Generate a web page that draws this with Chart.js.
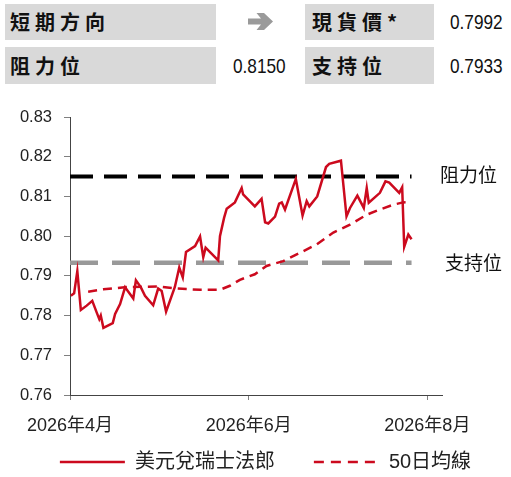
<!DOCTYPE html>
<html>
<head>
<meta charset="utf-8">
<script src="https://cdn.jsdelivr.net/npm/chart.js@4.4.1/dist/chart.umd.min.js"></script>
<style>
  html, body { margin: 0; padding: 0; background: #fff; }
  body { width: 511px; height: 477px; position: relative; overflow: hidden; }
  .box { position: absolute; background: #d9d9d9; }
  .lbl { position: absolute; font-family: "Noto Sans CJK TC", sans-serif; font-weight: bold; font-size: 20px; letter-spacing: 5px; color: #111; }
  .num { position: absolute; font-family: "Liberation Sans", Arial, sans-serif; font-size: 21px; color: #111; transform: scaleX(0.82); transform-origin: left center; }
  #arrow { position: absolute; left: 240px; top: 8px; }
  #wrap { position: absolute; left: 0; top: 95px; }
</style>
</head>
<body>
<div class="box" style="left:5px;top:4px;width:211px;height:36px"></div>
<div class="box" style="left:305px;top:4px;width:129px;height:36px"></div>
<div class="box" style="left:5px;top:47px;width:211px;height:37px"></div>
<div class="box" style="left:305px;top:47px;width:129px;height:37px"></div>
<div class="lbl" id="dirLabel" style="left:10px;top:4px;line-height:36px"></div>
<svg id="arrow" width="40" height="30" viewBox="0 0 40 30"><polygon points="8,10.5 21,10.5 16.5,5 24,5 33,13.5 24,22 16.5,22 21,16.5 8,16.5" fill="#9a9a9a"/></svg>
<div class="lbl" id="spotLabel" style="left:312px;top:4px;line-height:36px"></div>
<div class="num" id="spotVal" style="left:450px;top:4px;line-height:36px"></div>
<div class="lbl" id="resLabel" style="left:10px;top:47px;line-height:37px"></div>
<div class="num" id="resVal" style="left:233px;top:47px;line-height:37px"></div>
<div class="lbl" id="supLabel" style="left:312px;top:47px;line-height:37px"></div>
<div class="num" id="supVal" style="left:450px;top:47px;line-height:37px"></div>
<div id="wrap"><canvas id="fxChart" width="511" height="388"></canvas></div>
<script>
// header table
const headerLabels = ['短期方向', '現貨價*', '阻力位', '支持位'];
const spotPrice = 0.7992;
const resistance = 0.8150;
const support = 0.7933;

// days counted from 2026-04-01
const fxDays = [0.3, 1.4, 2.5, 3.7, 5.7, 7.6, 9.1, 10.0, 10.5, 11.4, 14.6, 15.4, 17.1, 18.8, 21.6, 22.5, 24.2, 25.6,
  28.4, 30.1, 31.3, 32.8, 35.8, 37.3, 38.5, 39.6, 42.7, 44.4, 45.5, 46.3, 50.6, 51.2, 52.6, 53.5, 56.3, 58.6, 59.1,
  63.1, 65.4, 66.6, 67.7, 70.0, 71.4, 72.3, 73.4, 77.1, 79.4, 80.8, 81.7, 84.4, 87.4, 88.5, 92.5, 94.4, 95.6, 98.1,
  100.3, 101.3, 102.0, 105.8, 107.7, 109.0, 112.4, 113.4, 114.1, 115.5, 116.6];
const fxValues = [0.7850, 0.7856, 0.7912, 0.7814, 0.7825, 0.7837, 0.7808, 0.7791, 0.7800, 0.7769, 0.7781, 0.7804,
  0.7829, 0.7871, 0.7843, 0.7889, 0.7871, 0.7850, 0.7826, 0.7868, 0.7862, 0.7810, 0.7872, 0.7921, 0.7896, 0.7960,
  0.7975, 0.7999, 0.7947, 0.7971, 0.7939, 0.8000, 0.8046, 0.8069, 0.8085, 0.8121, 0.8105, 0.8075, 0.8094, 0.8035,
  0.8032, 0.8049, 0.8082, 0.8085, 0.8067, 0.8144, 0.8052, 0.8088, 0.8075, 0.8100, 0.8174, 0.8182, 0.8190, 0.8050,
  0.8071, 0.8102, 0.8071, 0.8121, 0.8084, 0.8109, 0.8138, 0.8135, 0.8109, 0.8123, 0.7973, 0.8004, 0.7992];

const maDays = [6.2, 11.4, 19.4, 30.7, 36.4, 44.4, 51.2, 54.6, 58.0, 63.1, 67.1, 72.8, 78.5, 84.2, 89.9, 95.6,
  101.3, 105.8, 110.3, 113.7, 116.6];
const maValues = [0.7860, 0.7866, 0.7872, 0.7873, 0.7868, 0.7865, 0.7865, 0.7875, 0.7890, 0.7904, 0.7925, 0.7937,
  0.7958, 0.7979, 0.8009, 0.8029, 0.8054, 0.8067, 0.8079, 0.8085, 0.8086];

const levelDays = [0, 116.6];
const tickDays = [0, 61, 122];
const tickLabels = ['2026年4月', '2026年6月', '2026年8月'];
const seriesNames = ['美元兌瑞士法郎', '50日均線'];

document.getElementById('dirLabel').textContent = headerLabels[0];
document.getElementById('spotLabel').textContent = headerLabels[1];
document.getElementById('resLabel').textContent = headerLabels[2];
document.getElementById('supLabel').textContent = headerLabels[3];
document.getElementById('spotVal').textContent = spotPrice.toFixed(4);
document.getElementById('resVal').textContent = resistance.toFixed(4);
document.getElementById('supVal').textContent = support.toFixed(4);

const red = '#cc0a1e';
const fontMain = '"Liberation Sans", "Noto Sans CJK TC", sans-serif';

// labels next to the resistance / support lines
const levelLabels = {
	id: 'levelLabels',
	afterDraw(chart) {
		const ctx = chart.ctx;
		const y = chart.scales.y;
		ctx.save();
		ctx.font = '19px "Noto Sans CJK TC", sans-serif';
		ctx.fillStyle = '#111';
		ctx.textBaseline = 'middle';
		ctx.fillText(headerLabels[2], 440, y.getPixelForValue(resistance) - 2);
		ctx.fillText(headerLabels[3], 445, y.getPixelForValue(support));
		ctx.restore();
	}
};

// legend padding is only wanted between the items, not above them
const legendGap = {
	id: 'legendGap',
	afterInit(chart) {
		const legend = chart.legend;
		const fit = legend.fit;
		const draw = legend.draw;
		legend.fit = function() {
			fit.call(this);
			this.height -= this.options.labels.padding;
		};
		legend.draw = function() {
			const pad = this.options.labels.padding;
			this.top -= pad;
			draw.call(this);
			this.top += pad;
		};
	}
};

const fxChart = new Chart(document.getElementById('fxChart'), {
	type: 'line',
	data: {
		datasets: [
			{
				label: seriesNames[0],
				data: fxDays.map((d, i) => ({x: d, y: fxValues[i]})),
				borderColor: red,
				backgroundColor: red,
				borderWidth: 2.5,
				pointRadius: 0,
				tension: 0
			},
			{
				label: seriesNames[1],
				data: maDays.map((d, i) => ({x: d, y: maValues[i]})),
				borderColor: red,
				backgroundColor: red,
				borderWidth: 2.5,
				borderDash: [9, 6],
				pointRadius: 0
			},
			{
				label: headerLabels[2],
				data: levelDays.map(d => ({x: d, y: resistance})),
				borderColor: '#000',
				borderWidth: 4,
				borderDash: [23, 11],
				pointRadius: 0
			},
			{
				label: headerLabels[3],
				data: levelDays.map(d => ({x: d, y: support})),
				borderColor: '#999',
				borderWidth: 4.5,
				borderDash: [28, 14],
				pointRadius: 0
			}
		]
	},
	options: {
		responsive: false,
		animation: false,
		layout: {padding: {left: 20, right: 0, top: 22, bottom: 1}},
		plugins: {
			tooltip: {enabled: false},
			legend: {
				position: 'bottom',
				labels: {
					filter: item => item.datasetIndex < 2,
					// point-style items lose the dataset dash, so put it back
					generateLabels: chart => Chart.defaults.plugins.legend.labels.generateLabels(chart).map(item => {
						const ds = chart.data.datasets[item.datasetIndex];
						item.lineDash = ds.borderDash ? [10, 7] : [];
						item.lineWidth = ds.borderWidth;
						item.strokeStyle = ds.borderColor;
						return item;
					}),
					usePointStyle: true,
					pointStyle: 'line',
					pointStyleWidth: 65,
					padding: 39,
					color: '#222',
					font: {family: fontMain, size: 20}
				}
			}
		},
		scales: {
			x: {
				type: 'linear',
				min: 0,
				max: 127,
				afterBuildTicks: axis => { axis.ticks = tickDays.map(v => ({value: v})); },
				afterFit: axis => { axis.height = 57; },
				ticks: {
					autoSkip: false,
					maxRotation: 0,
					padding: 15,
					color: '#222',
					font: {family: fontMain, size: 18},
					callback: value => tickLabels[tickDays.indexOf(value)]
				},
				grid: {drawOnChartArea: false, drawTicks: true, tickLength: 5, color: '#808080'},
				border: {color: '#444', width: 1}
			},
			y: {
				min: 0.76,
				max: 0.83,
				afterFit: axis => { axis.width = 50; },
				ticks: {
					stepSize: 0.01,
					padding: 12,
					color: '#222',
					font: {family: fontMain, size: 16.5},
					callback: value => value.toFixed(2)
				},
				grid: {drawOnChartArea: false, drawTicks: true, tickLength: 6, color: '#808080'},
				border: {color: '#444', width: 1}
			},
			yRight: {
				position: 'right',
				display: true,
				afterFit: axis => { axis.width = 69; },
				ticks: {display: false},
				grid: {display: false},
				border: {display: false}
			}
		}
	},
	plugins: [levelLabels, legendGap]
});
</script>
</body>
</html>
